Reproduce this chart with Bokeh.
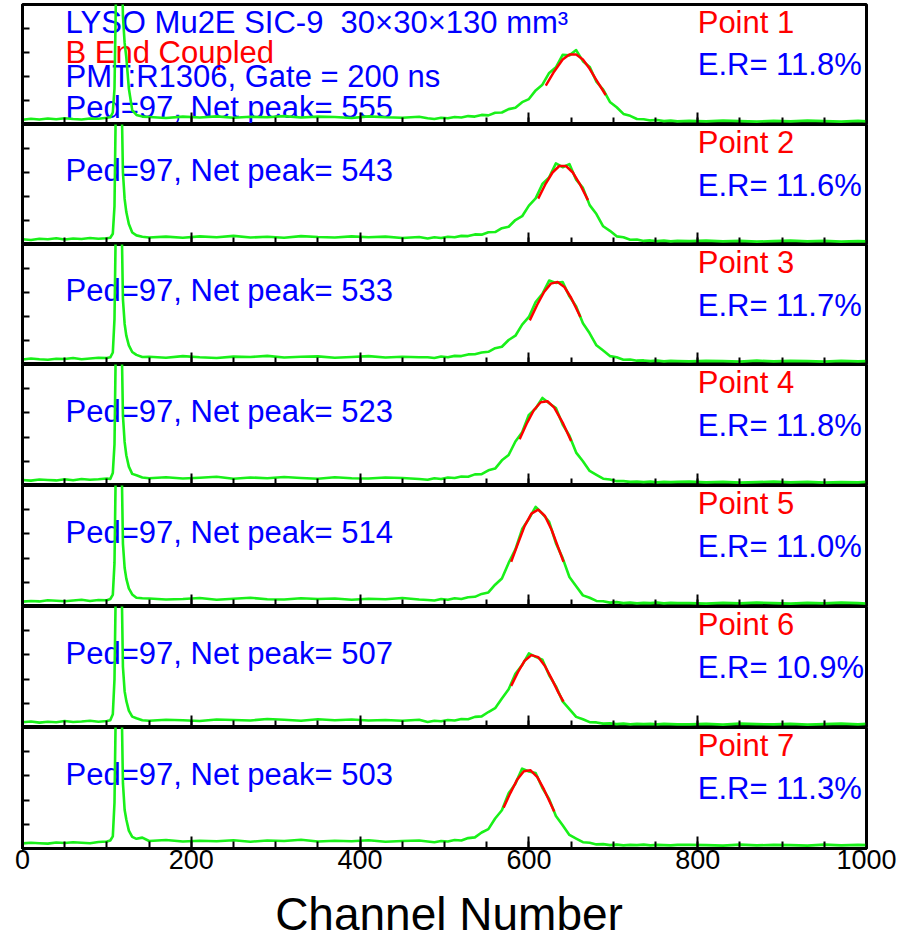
from bokeh.plotting import figure
from bokeh.layouts import column
from bokeh.models import Range1d, FixedTicker, Div
from bokeh.core.properties import value
from bokeh.embed import file_html
from bokeh.resources import INLINE

# ---------------- data ----------------
X_LOW = [0, 10, 20, 30, 40, 50, 60, 70, 80, 90, 100]
X_PED = [104, 107, 109, 111, 114, 117, 119, 121, 123, 126, 130, 135, 142]
X_MID = [150, 170, 190, 210, 230, 250, 270, 290, 310, 330, 350, 370, 390, 410, 430, 450, 470]
X_PEAK = [480, 488, 496, 504, 512, 520, 528, 536, 544, 552, 560, 568, 576, 584, 592, 600, 608,
          616, 624, 632, 640, 648, 656, 664, 672, 680, 688, 696, 704, 712, 720, 728, 736, 744,
          752, 760, 768, 776]
X_HIGH = [790, 810, 830, 850, 870, 890, 910, 930, 950, 970, 990, 1000]
CHANNELS = X_LOW + X_PED + X_MID + X_PEAK + X_HIGH

counts_p1 = ([.20, .24, .21, .25, .22, .26, .23, .21, .25, .24, .28]
             + [.30, .50, 1.5, 6.0, 9.0, 8.0, 4.5, 3.4, 2.8, 1.5, .60, .40, .33]
             + [.31, .27, .33, .29, .34, .28, .32, .30, .35, .29, .33, .31, .27, .34, .30, .28, .32]
             + [.26, .23, .28, .26, .31, .29, .35, .33, .40, .38, .49, .50, .64, .70, .93, 1.06, 1.42,
                1.66, 2.15, 2.38, 2.90, 2.88, 3.10, 2.64, 2.40, 1.78, 1.45, .94, .72, .44, .36, .23,
                .22, .17, .19, .14, .16, .13]
             + [.15, .13, .16, .14, .12, .15, .13, .16, .14, .12, .15, .13])
counts_p2 = ([.22, .19, .24, .22, .26, .21, .25, .23, .27, .24, .26]
             + [.28, .45, 1.6, 7.0, 9.0, 7.0, 3.0, 1.9, 1.35, .85, .50, .38, .32]
             + [.29, .33, .28, .34, .30, .36, .29, .32, .28, .35, .31, .29, .34, .30, .33, .27, .31]
             + [.25, .30, .27, .32, .30, .36, .35, .42, .41, .51, .52, .68, .74, 1.02, 1.18, 1.62, 1.92,
                2.52, 2.80, 3.38, 3.22, 3.35, 2.70, 2.36, 1.64, 1.27, .76, .57, .34, .30, .20, .21,
                .15, .17, .14, .16, .13, .15]
             + [.14, .16, .13, .15, .12, .14, .16, .13, .15, .12, .14, .13])
counts_p3 = ([.21, .25, .22, .20, .24, .23, .27, .22, .25, .28, .27]
             + [.30, .50, 1.9, 7.0, 9.0, 7.0, 2.7, 1.7, 1.2, .80, .52, .40, .31]
             + [.32, .28, .35, .30, .27, .33, .31, .36, .29, .32, .34, .28, .31, .35, .29, .32, .30]
             + [.30, .27, .33, .30, .36, .35, .42, .43, .50, .53, .68, .74, 1.02, 1.20, 1.66, 1.98, 2.60,
                2.94, 3.50, 3.40, 3.44, 2.84, 2.42, 1.72, 1.30, .80, .58, .35, .30, .20, .21, .16,
                .17, .14, .16, .13, .15, .14]
             + [.13, .15, .14, .12, .16, .13, .15, .14, .12, .15, .13, .14])
counts_p4 = ([.23, .20, .25, .23, .21, .26, .22, .27, .24, .26, .29]
             + [.27, .52, 1.7, 7.0, 9.0, 7.0, 2.9, 1.8, 1.25, .78, .48, .42, .33]
             + [.30, .34, .29, .32, .36, .28, .33, .30, .35, .31, .28, .34, .30, .29, .33, .31, .27]
             + [.24, .30, .27, .33, .31, .37, .36, .46, .47, .63, .70, 1.04, 1.26, 1.82, 2.20, 2.92, 3.18,
                3.62, 3.40, 3.20, 2.52, 2.06, 1.36, 1.00, .60, .44, .28, .25, .18, .18, .15, .16,
                .14, .16, .13, .15, .14, .15]
             + [.16, .13, .15, .12, .14, .16, .13, .15, .12, .14, .13, .15])
counts_p5 = ([.20, .23, .21, .26, .24, .22, .25, .28, .23, .27, .26]
             + [.31, .48, 1.8, 7.0, 9.0, 7.0, 2.6, 1.6, 1.15, .75, .50, .36, .34]
             + [.33, .29, .31, .35, .28, .32, .36, .30, .29, .34, .31, .33, .28, .32, .30, .35, .29]
             + [.27, .25, .31, .28, .34, .31, .38, .40, .52, .58, .90, 1.16, 1.80, 2.36, 3.20, 3.62, 4.12,
                3.84, 3.50, 2.62, 2.00, 1.22, .84, .46, .36, .23, .22, .16, .18, .14, .16, .13,
                .15, .14, .16, .13, .15, .14]
             + [.14, .12, .15, .13, .16, .14, .12, .15, .13, .16, .14, .12])
counts_p6 = ([.22, .25, .20, .24, .22, .27, .23, .25, .28, .24, .27]
             + [.30, .55, 2.0, 7.0, 9.0, 7.0, 2.5, 1.5, 1.1, .70, .45, .38, .30]
             + [.28, .32, .30, .27, .33, .31, .29, .35, .32, .28, .34, .30, .33, .29, .31, .28, .32]
             + [.23, .28, .26, .31, .29, .35, .34, .44, .46, .64, .80, 1.20, 1.58, 2.22, 2.58, 3.06, 2.92,
                2.80, 2.16, 1.70, 1.08, .76, .44, .34, .22, .21, .16, .17, .14, .16, .13, .15,
                .14, .15, .13, .15, .14, .13]
             + [.13, .15, .12, .16, .14, .13, .15, .12, .14, .16, .13, .15])
counts_p7 = ([.21, .24, .22, .20, .25, .23, .26, .24, .22, .27, .29]
             + [.33, .50, 1.9, 7.0, 9.0, 7.0, 2.7, 1.6, 1.2, .74, .48, .40, .45]
             + [.31, .35, .29, .32, .30, .34, .28, .33, .31, .36, .29, .32, .30, .34, .28, .31, .33]
             + [.29, .26, .31, .29, .35, .33, .43, .46, .66, .80, 1.24, 1.58, 2.28, 2.68, 3.30, 3.18, 3.12,
                2.50, 2.04, 1.34, .96, .56, .41, .26, .24, .17, .18, .14, .16, .13, .15, .14,
                .16, .13, .15, .14, .13, .15]
             + [.15, .14, .12, .16, .13, .15, .14, .12, .16, .13, .15, .14])
COUNTS = [counts_p1, counts_p2, counts_p3, counts_p4, counts_p5, counts_p6, counts_p7]

# Gaussian fit curves
fit_x = [
    [620, 630, 640, 648, 656, 664, 672, 680, 691],
    [611, 620, 628, 636, 644, 652, 660, 670],
    [601, 610, 618, 626, 634, 642, 650, 661],
    [589, 598, 606, 614, 622, 630, 640, 650],
    [579, 587, 595, 603, 611, 619, 627, 635, 641],
    [579, 587, 595, 603, 611, 619, 627, 635, 641],
    [570, 578, 586, 594, 602, 610, 618, 630],
]
fit_y = [
    [1.62, 2.21, 2.71, 2.92, 2.92, 2.71, 2.32, 1.85, 1.23],
    [1.91, 2.54, 3.00, 3.27, 3.27, 3.00, 2.54, 1.85],
    [1.84, 2.50, 3.02, 3.37, 3.44, 3.23, 2.78, 1.98],
    [1.91, 2.60, 3.12, 3.44, 3.48, 3.22, 2.60, 1.84],
    [1.85, 2.60, 3.33, 3.84, 4.00, 3.74, 3.16, 2.41, 1.85],
    [1.72, 2.29, 2.76, 2.99, 2.91, 2.54, 2.01, 1.44, 1.07],
    [1.69, 2.29, 2.84, 3.19, 3.23, 2.95, 2.43, 1.53],
]

PED = 97
NET_PEAK = [555, 543, 533, 523, 514, 507, 503]
ENERGY_RES = ["11.8", "11.6", "11.7", "11.8", "11.0", "10.9", "11.3"]
HEADER_LINES = ["LYSO Mu2E SIC-9 \u00a030\u00d730\u00d7130 mm\u00b3", "B End Coupled", "PMT:R1306, Gate = 200 ns"]
HEADER_COLORS = ["#0000ff", "#ff0000", "#0000ff"]
X_TICKS = [0, 200, 400, 600, 800, 1000]
X_MINOR = [0, 50, 100, 150, 200, 250, 300, 350, 400, 450, 500, 550, 600, 650, 700, 750, 800, 850, 900, 950, 1000]
Y_TICKS = [1, 2, 3, 4]
X_TITLE = "Channel Number"

# ---------------- drawing ----------------
FONT = value("Liberation Sans")
TXT = value("31px")
GREEN = "#19f019"
FRAME_H = [120, 120, 120, 121, 121, 121, 121]
figs = []
for i in range(7):
    last = (i == 6)
    p = figure(frame_width=844, frame_height=FRAME_H[i],
               x_range=Range1d(0, 1000), y_range=Range1d(0, 5),
               output_backend="svg", toolbar_location=None,
               min_border_left=22, min_border_right=34,
               min_border_top=4 if i == 0 else 0,
               min_border_bottom=34 if last else 0,
               background_fill_color="white", border_fill_color="white")
    p.grid.visible = False
    p.outline_line_color = "black"
    p.outline_line_width = 3

    xa = p.xaxis[0]
    xa.ticker = FixedTicker(ticks=X_TICKS, minor_ticks=X_MINOR)
    xa.major_tick_in = 12
    xa.major_tick_out = 0
    xa.minor_tick_in = 7
    xa.minor_tick_out = 0
    xa.major_tick_line_width = 2
    xa.minor_tick_line_width = 2
    xa.axis_line_width = 3
    if last:
        xa.major_label_text_font = "Liberation Sans"
        xa.major_label_text_font_size = "27px"
        xa.major_label_text_color = "black"
        xa.major_label_standoff = 1
    else:
        xa.major_label_overrides = {t: "" for t in X_TICKS}
        xa.major_label_text_font_size = "1px"
        xa.major_label_standoff = 0

    ya = p.yaxis[0]
    ya.ticker = FixedTicker(ticks=Y_TICKS)
    ya.major_tick_in = 7
    ya.major_tick_out = 0
    ya.minor_tick_line_color = None
    ya.major_tick_line_width = 2
    ya.axis_line_width = 3
    ya.major_label_overrides = {t: "" for t in Y_TICKS}
    ya.major_label_text_font_size = "1px"
    ya.major_label_standoff = 0

    # texts
    if i == 0:
        p.text(x=[51, 51, 51], y=[4.26, 3.02, 2.0], text=HEADER_LINES,
               text_color=HEADER_COLORS, text_font=FONT, text_font_size=TXT,
               text_baseline="alphabetic", text_align="left")
        ped_y = 0.72
        er_y = 2.52
    else:
        ped_y = 3.07
        er_y = 2.47
    p.text(x=[51], y=[ped_y], text=["Ped=%d, Net peak= %d" % (PED, NET_PEAK[i])],
           text_color="#0000ff", text_font=FONT, text_font_size=TXT,
           text_baseline="alphabetic", text_align="left")
    p.text(x=[800], y=[4.26], text=["Point %d" % (i + 1)],
           text_color="#ff0000", text_font=FONT, text_font_size=TXT,
           text_baseline="alphabetic", text_align="left")
    p.text(x=[800], y=[er_y], text=["E.R= %s%%" % ENERGY_RES[i]],
           text_color="#0000ff", text_font=FONT, text_font_size=TXT,
           text_baseline="alphabetic", text_align="left")

    p.line(CHANNELS, COUNTS[i], line_color=GREEN, line_width=2.6, line_join="round")
    p.line(fit_x[i], fit_y[i], line_color="#ff0000", line_width=2.5, line_join="round")
    figs.append(p)

# axis title, centred under the frame
title_div = Div(text=X_TITLE, width=888, height=56,
                styles={"font-family": "Liberation Sans", "font-size": "46px",
                        "line-height": "46px", "text-align": "center", "color": "black",
                        "padding-top": "4px", "box-sizing": "border-box",
                        "overflow": "visible", "white-space": "nowrap"})

layout = column(*figs, title_div, spacing=0)
open("out.html", "w").write(file_html(layout, INLINE))
